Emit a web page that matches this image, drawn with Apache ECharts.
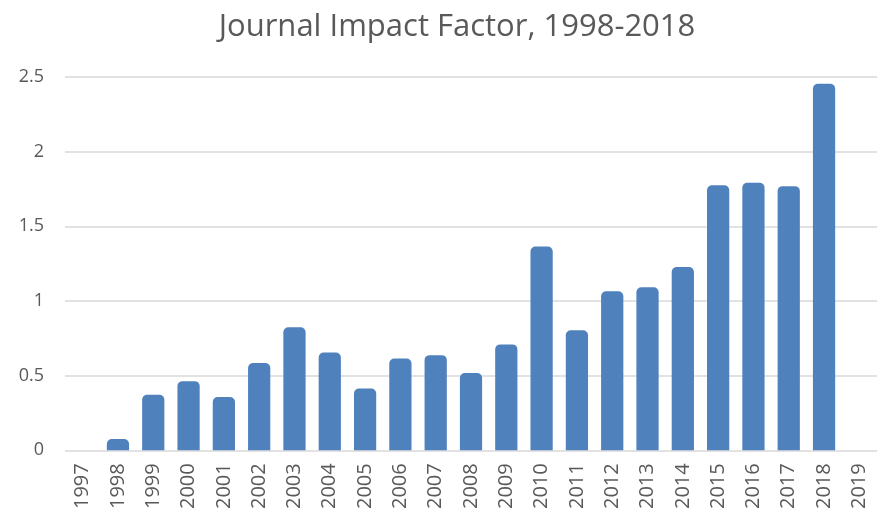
<!DOCTYPE html>
<html><head><meta charset="utf-8">
<script src="https://cdn.jsdelivr.net/npm/echarts@6/dist/echarts.min.js"></script>
<style>html,body{margin:0;padding:0;background:#fff}#c{width:880px;height:512px}</style>
</head><body><div id="c"></div>
<script>
const titleText = 'Journal Impact Factor, 1998-2018';
const years = ['1997','1998','1999','2000','2001','2002','2003','2004','2005','2006','2007','2008','2009','2010','2011','2012','2013','2014','2015','2016','2017','2018','2019'];
const impactFactor = [null,0.076,0.372,0.463,0.356,0.584,0.824,0.655,0.414,0.615,0.637,0.517,0.709,1.364,0.804,1.065,1.092,1.227,1.775,1.791,1.769,2.455,null];
const yTicks = {min:0, max:2.5, interval:0.5};

const chart = echarts.init(document.getElementById('c'));
chart.setOption({
  animation:false,
  title:{text:titleText,left:452,top:7,textAlign:'center',textStyle:{fontFamily:'Open Sans',fontWeight:'normal',fontSize:31,color:'#595959'}},
  grid:{left:65,right:3,top:77,bottom:60},
  xAxis:{type:'category',data:years,
    axisLine:{show:false},axisTick:{show:false},
    axisLabel:{rotate:90,interval:0,margin:13,fontFamily:'Open Sans',fontSize:20,color:'#595959'}},
  yAxis:{type:'value',min:yTicks.min,max:yTicks.max,interval:yTicks.interval,
    axisLine:{show:false},axisTick:{show:false},
    splitLine:{lineStyle:{color:'#d9d9d9',width:1.5}},
    axisLabel:{margin:21,fontFamily:'Open Sans',fontSize:18,color:'#595959'}},
  series:[{type:'bar',data:impactFactor,barWidth:'63%',
    itemStyle:{color:'#4f81bd',borderRadius:[5,5,0,0]}}]
});
</script></body></html>
